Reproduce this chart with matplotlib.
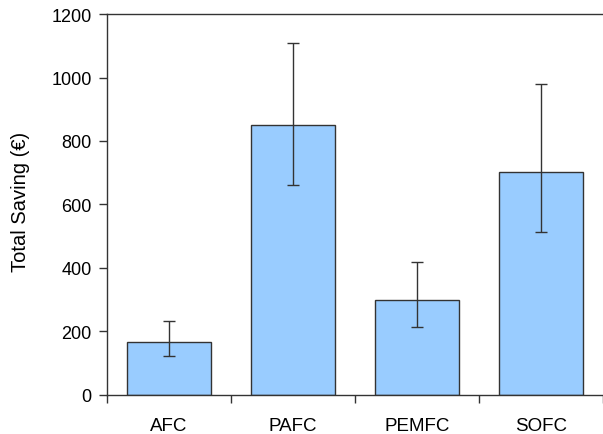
import matplotlib
matplotlib.use("Agg")
import matplotlib.pyplot as plt
import numpy as np

categories = ["AFC", "PAFC", "PEMFC", "SOFC"]
values = [168, 850, 300, 703]
err_low = [122, 662, 213, 512]
err_high = [232, 1110, 420, 978]

plt.rcParams['font.family'] = ['Liberation Sans', 'DejaVu Sans']

fig = plt.figure(figsize=(6.03, 4.35), dpi=100)
ax = fig.add_axes([0.1775, 0.0897, 0.8225, 0.8758])

x = np.arange(len(categories))
vals = np.array(values)
yerr = np.array([vals - np.array(err_low), np.array(err_high) - vals])
ax.bar(x, vals, width=0.68, color="#99CCFF", edgecolor="#333333", linewidth=1.0, zorder=2)
ax.errorbar(x, vals, yerr=yerr, fmt="none", ecolor="#333333", elinewidth=1.0,
            capsize=4, capthick=1.0, zorder=3)

ax.set_xlim(-0.5, 3.5)
ax.set_ylim(0, 1200)
ax.set_yticks(np.arange(0, 1201, 200))
ax.set_xticks(x)
ax.set_xticklabels(categories)
ax.set_xticks(np.arange(-0.5, 3.6, 1.0), minor=True)
ax.tick_params(axis='x', which='major', length=0, pad=16, labelsize=13.5)
ax.tick_params(axis='x', which='minor', length=6, width=1.0, direction='out', color="#333333")
ax.tick_params(axis='y', length=6, width=1.0, direction='out', pad=5, labelsize=13, color="#333333")
ax.spines['right'].set_visible(False)
for s in ['left', 'top', 'bottom']:
    ax.spines[s].set_color("#333333")
    ax.spines[s].set_linewidth(1.0)
ax.set_ylabel("Total Saving (€)", fontsize=14.5, labelpad=15)
ax.yaxis.set_label_coords(-0.155, 0.51)

fig.savefig("out.png", dpi=100)
